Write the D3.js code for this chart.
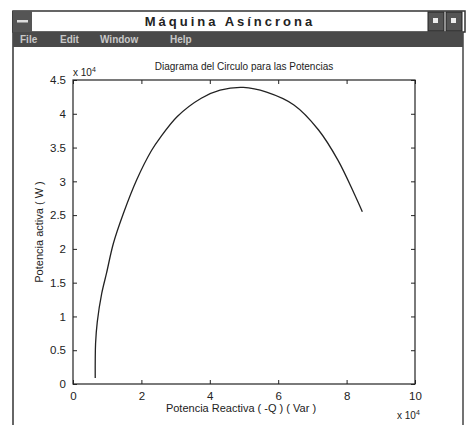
<!DOCTYPE html>
<html>
<head>
<meta charset="utf-8">
<script src="https://cdn.jsdelivr.net/npm/d3@7"></script>
<style>
  body { margin: 0; background: #fff; }
  text { font-family: "Liberation Sans", Arial, sans-serif; fill: #222; }
</style>
</head>
<body>
<div id="container" style="width:467px;height:425px;"></div>
<script>
var width = 467, height = 425;

// data (x 10^4)
var reactiva = [0.65, 0.66, 0.71, 0.84, 0.98, 1.18, 1.47, 1.86, 2.30, 2.54, 3.05, 3.75, 4.30, 4.98, 5.66, 6.46, 7.18, 7.75, 8.22, 8.46];
var activa   = [0.09, 0.60, 0.92, 1.34, 1.64, 2.08, 2.52, 3.02, 3.46, 3.64, 3.96, 4.23, 4.35, 4.39, 4.32, 4.13, 3.76, 3.31, 2.82, 2.55];
var xTicks = [0, 2, 4, 6, 8, 10];
var yTicks = [0, 0.5, 1, 1.5, 2, 2.5, 3, 3.5, 4, 4.5];
var menuItems = ['File', 'Edit', 'Window', 'Help'];

var svg = d3.select('#container')
	.append('svg')
	.attr('width', width)
	.attr('height', height);

// window frame
svg.append('line').attr('x1', 13).attr('x2', 13).attr('y1', 11).attr('y2', height)
	.style('stroke', '#333').style('stroke-width', 1.5);
svg.append('line').attr('x1', 463).attr('x2', 463).attr('y1', 11).attr('y2', height)
	.style('stroke', '#444').style('stroke-width', 1.5);

// title bar
svg.append('rect').attr('x', 13).attr('y', 11).attr('width', 452).attr('height', 21)
	.style('fill', '#fff').style('stroke', '#333').style('stroke-width', 1.5);
svg.append('rect').attr('x', 13).attr('y', 11).attr('width', 19).attr('height', 21)
	.style('fill', '#555');
svg.append('rect').attr('x', 17).attr('y', 20).attr('width', 11).attr('height', 2.5)
	.style('fill', '#ddd');
[428, 446].forEach(function(bx){
	svg.append('rect').attr('x', bx).attr('y', 12).attr('width', 16).attr('height', 19)
		.style('fill', '#555').style('stroke', '#222');
	svg.append('rect').attr('x', bx + 5).attr('y', 18).attr('width', 5).attr('height', 5)
		.style('fill', '#eee');
});
svg.append('text')
	.attr('x', 230).attr('y', 26)
	.attr('text-anchor', 'middle')
	.style('font-size', '13px').style('font-weight', 'bold')
	.style('letter-spacing', '3px')
	.text('Máquina  Asíncrona');

// menu bar
svg.append('rect').attr('x', 13).attr('y', 32).attr('width', 450).attr('height', 15)
	.style('fill', '#4a4a4a');
var menuX = [20, 60, 100, 170];
svg.selectAll('.menu')
	.data(menuItems)
	.enter()
	.append('text')
	.attr('class', 'menu')
	.attr('x', function(d, i){ return menuX[i]; })
	.attr('y', 43)
	.style('font-size', '10px').style('font-weight', 'bold')
	.style('fill', '#c8c8c8')
	.text(function(d){ return d; });

// plot
var plotLeft = 73, plotRight = 415, plotTop = 80, plotBottom = 384;

var x = d3.scaleLinear().domain([0, 10]).range([plotLeft, plotRight]);
var y = d3.scaleLinear().domain([0, 4.5]).range([plotBottom, plotTop]);

svg.append('rect')
	.attr('x', plotLeft).attr('y', plotTop)
	.attr('width', plotRight - plotLeft).attr('height', plotBottom - plotTop)
	.style('fill', 'none').style('stroke', '#222').style('stroke-width', 1.2);

var tickLen = 4;
var fmt = d3.format('~g');
svg.append('g')
	.attr('transform', 'translate(0,' + plotBottom + ')')
	.call(d3.axisBottom(x).tickValues(xTicks).tickFormat(fmt).tickSizeInner(-tickLen).tickSizeOuter(0).tickPadding(8))
	.call(function(g){ g.select('.domain').remove(); });
svg.append('g')
	.attr('transform', 'translate(0,' + plotTop + ')')
	.call(d3.axisTop(x).tickValues(xTicks).tickSizeInner(-tickLen).tickSizeOuter(0).tickFormat(''))
	.call(function(g){ g.select('.domain').remove(); });
svg.append('g')
	.attr('transform', 'translate(' + plotLeft + ',0)')
	.call(d3.axisLeft(y).tickValues(yTicks).tickFormat(fmt).tickSizeInner(-tickLen).tickSizeOuter(0).tickPadding(7))
	.call(function(g){ g.select('.domain').remove(); });
svg.append('g')
	.attr('transform', 'translate(' + plotRight + ',0)')
	.call(d3.axisRight(y).tickValues(yTicks).tickSizeInner(-tickLen).tickSizeOuter(0).tickFormat(''))
	.call(function(g){ g.select('.domain').remove(); });

svg.selectAll('.tick line').style('stroke', '#222');
svg.selectAll('.tick text')
	.style('font-family', '"Liberation Sans", Arial, sans-serif')
	.style('font-size', '11.5px').style('fill', '#222');

var line = d3.line()
	.x(function(d, i){ return x(reactiva[i]); })
	.y(function(d){ return y(d); })
	.curve(d3.curveCatmullRom);

svg.append('path')
	.datum(activa)
	.attr('d', line)
	.style('fill', 'none')
	.style('stroke', '#222')
	.style('stroke-width', 1.3);

// texts
svg.append('text')
	.attr('x', 244).attr('y', 70)
	.attr('text-anchor', 'middle')
	.style('font-size', '10px')
	.text('Diagrama del Circulo para las Potencias');

svg.append('text')
	.attr('transform', 'translate(43,232) rotate(-90)')
	.attr('text-anchor', 'middle')
	.style('font-size', '11px')
	.text('Potencia activa ( W )');

svg.append('text')
	.attr('x', 241).attr('y', 412)
	.attr('text-anchor', 'middle')
	.style('font-size', '11px')
	.text('Potencia Reactiva ( -Q ) ( Var )');

var expY = svg.append('text').attr('x', 73).attr('y', 76).style('font-size', '10px');
expY.append('tspan').text('x 10');
expY.append('tspan').attr('dy', -4).style('font-size', '7px').text('4');

var expX = svg.append('text').attr('x', 397).attr('y', 419).style('font-size', '10px');
expX.append('tspan').text('x 10');
expX.append('tspan').attr('dy', -4).style('font-size', '7px').text('4');
</script>
</body>
</html>
